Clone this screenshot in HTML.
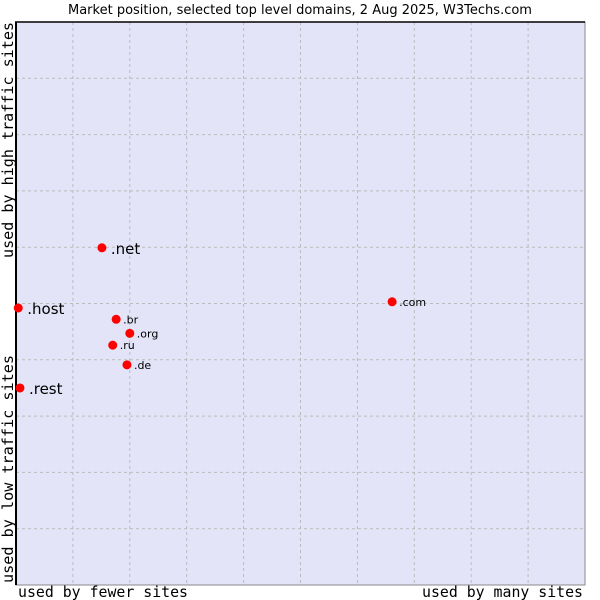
<!DOCTYPE html>
<html><head><meta charset="utf-8"><style>
body{margin:0;background:#fff;width:600px;height:600px;overflow:hidden}
svg{display:block}
</style></head><body>
<svg width="600" height="600" font-family="DejaVu Sans, sans-serif">
<text x="300" y="14" text-anchor="middle" font-size="13" fill="#000">Market position, selected top level domains, 2 Aug 2025, W3Techs.com</text>
<rect x="16" y="22" width="569" height="563" fill="#e4e4f8" stroke="#888" stroke-width="1"/>
<g id="grid"></g>
<line x1="16" y1="22" x2="16" y2="585" stroke="#000" stroke-width="2"/>
<line x1="15" y1="22" x2="585" y2="22" stroke="#000" stroke-width="1.5"/>
<g id="points"></g>
<text x="18" y="597" font-family="DejaVu Sans Mono, monospace" font-size="15" textLength="170" lengthAdjust="spacingAndGlyphs">used by fewer sites</text>
<text x="583" y="597" text-anchor="end" font-family="DejaVu Sans Mono, monospace" font-size="15" textLength="161" lengthAdjust="spacingAndGlyphs">used by many sites</text>
<text transform="translate(13,258) rotate(-90)" font-family="DejaVu Sans Mono, monospace" font-size="15" textLength="236" lengthAdjust="spacingAndGlyphs">used by high traffic sites</text>
<text transform="translate(13,583) rotate(-90)" font-family="DejaVu Sans Mono, monospace" font-size="15" textLength="228" lengthAdjust="spacingAndGlyphs">used by low traffic sites</text>
</svg>
<script>
const labels=[".net",".host",".rest",".com",".br",".org",".ru",".de"];
const xValues=[15.1,0.4,0.7,66.1,17.6,20.0,17.0,19.5];
const yValues=[59.9,49.2,35.0,50.3,47.2,44.7,42.6,39.1];
const bigLabel=[true,true,true,false,false,false,false,false];
const X0=16,X1=585,Y0=585,Y1=22;
const sx=v=>X0+v/100*(X1-X0);
const sy=v=>Y0-v/100*(Y0-Y1);
const NS="http://www.w3.org/2000/svg";
const grid=document.getElementById('grid');
for(let i=1;i<10;i++){
  let l=document.createElementNS(NS,'line');
  
  
  l.setAttribute('x1',sx(i*10));l.setAttribute('x2',sx(i*10));l.setAttribute('y1',Y1);l.setAttribute('y2',Y0);
  l.setAttribute('stroke','#bbb');l.setAttribute('stroke-dasharray','3,3');grid.appendChild(l);
  let h=document.createElementNS(NS,'line');
  
  
  h.setAttribute('x1',X0);h.setAttribute('x2',X1);h.setAttribute('y1',sy(i*10));h.setAttribute('y2',sy(i*10));
  h.setAttribute('stroke','#bbb');h.setAttribute('stroke-dasharray','3,3');grid.appendChild(h);
}
const pts=document.getElementById('points');
labels.forEach((lab,i)=>{
  const x=sx(xValues[i]),y=sy(yValues[i]);
  const d=document.createElementNS(NS,'circle');
  
  
  d.setAttribute('cx',x);d.setAttribute('cy',y);d.setAttribute('r',4.5);
  d.setAttribute('fill','#f00');pts.appendChild(d);
  const t=document.createElementNS(NS,'text');
  
  
  t.setAttribute('x',x+(bigLabel[i]?9:7));
  t.setAttribute('y',y+(bigLabel[i]?6:4));
  t.setAttribute('font-size',bigLabel[i]?15:11);
  t.setAttribute('fill','#000');
  t.textContent=lab;pts.appendChild(t);
});
</script>
</body></html>
